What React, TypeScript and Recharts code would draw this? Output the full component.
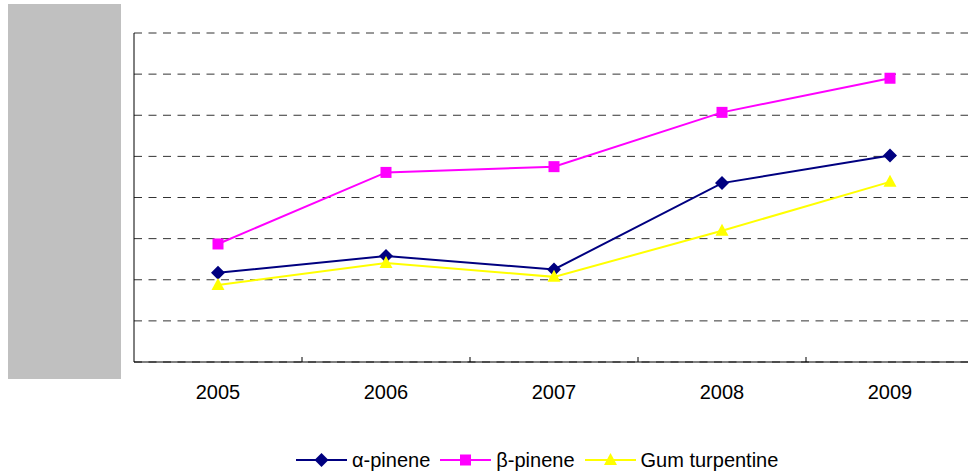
import { LineChart, Line, XAxis, YAxis, CartesianGrid, Legend } from 'recharts';

const years = ['2005', '2006', '2007', '2008', '2009'];
const alphaPinene = [2.17, 2.58, 2.25, 4.35, 5.02];
const betaPinene = [2.87, 4.61, 4.75, 6.07, 6.9];
const gumTurpentine = [1.87, 2.41, 2.07, 3.19, 4.38];
const yTicks = [0, 1, 2, 3, 4, 5, 6, 7, 8];

const data = years.map((year, i) => ({
  year,
  alpha: alphaPinene[i],
  beta: betaPinene[i],
  gum: gumTurpentine[i],
}));

const FONT = '"Liberation Sans", Arial, sans-serif';

const seriesOrder = ['alpha', 'beta', 'gum'];
const shapes: Record<string, string> = { alpha: 'diamond', beta: 'square', gum: 'triangle' };

const Marker = ({ shape, cx, cy, color }: any) => {
  if (cx == null || cy == null) return null;
  if (shape === 'diamond') {
    return <polygon points={`${cx},${cy - 7} ${cx + 7},${cy} ${cx},${cy + 7} ${cx - 7},${cy}`} fill={color} />;
  }
  if (shape === 'square') {
    return <rect x={cx - 5.5} y={cy - 5.5} width={11} height={11} fill={color} />;
  }
  return <polygon points={`${cx},${cy - 7} ${cx + 6.5},${cy + 5} ${cx - 6.5},${cy + 5}`} fill={color} />;
};

// label in the middle of the band, separator mark at the band's left edge
const YearTick = ({ x, y, payload, index }: any) => (
  <g>
    {index > 0 && <line x1={x - 84} x2={x - 84} y1={y - 5} y2={y} stroke="#000" strokeWidth={1} />}
    <text x={x} y={y + 37} textAnchor="middle" fontFamily={FONT} fontSize={20} fill="#000">
      {payload.value}
    </text>
  </g>
);

const renderLegend = ({ payload }: any) => {
  const items = [...(payload || [])].sort(
    (a: any, b: any) => seriesOrder.indexOf(a.dataKey) - seriesOrder.indexOf(b.dataKey)
  );
  return (
    <div style={{ display: 'flex', alignItems: 'center', height: 24, fontFamily: FONT, fontSize: 20, color: '#000' }}>
      {items.map((entry: any, i: number) => (
        <div key={i} style={{ display: 'flex', alignItems: 'center', marginRight: 10 }}>
          <svg width={51} height={16}>
            <line x1={0} x2={51} y1={8} y2={8} stroke={entry.color} strokeWidth={2} />
            <Marker shape={shapes[entry.dataKey]} cx={25.5} cy={8} color={entry.color} />
          </svg>
          <span style={{ marginLeft: 5 }}>{entry.value}</span>
        </div>
      ))}
    </div>
  );
};

export default function App() {
  return (
    <div style={{ position: 'absolute', left: 0, top: 0, width: 968, height: 472, overflow: 'hidden', background: '#fff' }}>
      <LineChart width={980} height={472} data={data} margin={{ top: 33, right: 6, left: 74, bottom: 56 }}>
        <CartesianGrid vertical={false} stroke="#333" strokeDasharray="8 6.5" />
        <XAxis
          dataKey="year"
          padding={{ left: 84, right: 84 }}
          tickLine={false}
          tickSize={0}
          tickMargin={0}
          tick={<YearTick />}
          axisLine={{ stroke: '#000', strokeWidth: 1 }}
          height={30}
        />
        <YAxis
          domain={[0, 8]}
          ticks={yTicks}
          tickFormatter={() => ''}
          tickLine={false}
          axisLine={{ stroke: '#000', strokeWidth: 1 }}
          width={60}
        />
        <Legend
          verticalAlign="bottom"
          content={renderLegend}
          wrapperStyle={{ top: 448, left: 296, bottom: 'auto', width: 'auto' }}
        />
        <Line
          dataKey="alpha"
          name="α-pinene"
          stroke="#000080"
          strokeWidth={2}
          isAnimationActive={false}
          dot={(p: any) => <Marker key={`a${p.index}`} shape="diamond" cx={p.cx} cy={p.cy} color="#000080" />}
          activeDot={false}
        />
        <Line
          dataKey="beta"
          name="β-pinene"
          stroke="#FF00FF"
          strokeWidth={2}
          isAnimationActive={false}
          dot={(p: any) => <Marker key={`b${p.index}`} shape="square" cx={p.cx} cy={p.cy} color="#FF00FF" />}
          activeDot={false}
        />
        <Line
          dataKey="gum"
          name="Gum turpentine"
          stroke="#FFFF00"
          strokeWidth={2}
          isAnimationActive={false}
          dot={(p: any) => <Marker key={`g${p.index}`} shape="triangle" cx={p.cx} cy={p.cy} color="#FFFF00" />}
          activeDot={false}
        />
      </LineChart>
      <div style={{ position: 'absolute', left: 8, top: 4, width: 113, height: 375, background: '#c0c0c0' }} />
    </div>
  );
}
